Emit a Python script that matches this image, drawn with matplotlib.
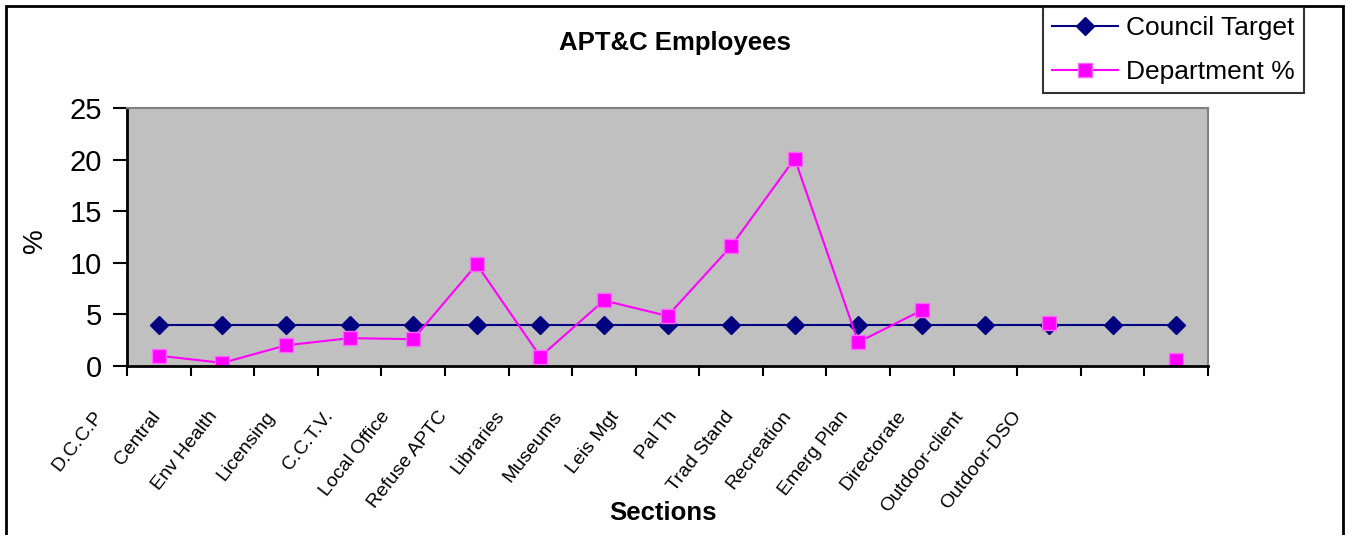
import matplotlib.pyplot as plt
import matplotlib.patches as patches
import matplotlib.transforms as mtransforms
import numpy as np

plt.rcParams['font.family'] = ['Liberation Sans', 'DejaVu Sans']

sections = ['D.C.C.P', 'Central', 'Env Health', 'Licensing', 'C.C.T.V.',
            'Local Office', 'Refuse APTC', 'Libraries', 'Museums', 'Leis Mgt',
            'Pal Th', 'Trad Stand', 'Recreation', 'Emerg Plan', 'Directorate',
            'Outdoor-client', 'Outdoor-DSO']
council_target = [4] * 17
department = [1.0, 0.3, 2.0, 2.7, 2.6, 9.85, 0.9, 6.35, 4.85, 11.6,
              20.1, 2.3, 5.4, np.nan, 4.2, np.nan, 0.6]
yticks = [0, 5, 10, 15, 20, 25]

fig = plt.figure(figsize=(13.47, 5.35), dpi=100)
ax = fig.add_axes([0.0943, 0.3159, 0.8025, 0.4822])
ax.set_facecolor('#C0C0C0')

x = np.arange(len(sections))
ax.plot(x, council_target, color='#000080', lw=1.5, marker='D', ms=9.5,
        mfc='#000080', mec='#000080', label='Council Target')
ax.plot(x, department, color='#FF00FF', lw=1.5, marker='s', ms=10,
        mfc='#FF00FF', mec='#FF66FF', label='Department %')

ax.set_xlim(-0.5, len(sections) - 0.5)
ax.set_ylim(0, 25)
ax.set_yticks(yticks)
ax.tick_params(axis='y', labelsize=21, length=10, width=1.5, direction='out', pad=8)

# tick marks at the category boundaries
ax.set_xticks(np.arange(len(sections) + 1) - 0.5)
ax.set_xticklabels([])
ax.tick_params(axis='x', length=7, width=1.5, direction='out')

# category labels drift left of their category in the original, so place by hand
trans = ax.get_xaxis_transform() + mtransforms.ScaledTranslation(0, -0.47, fig.dpi_scale_trans)
for i, name in enumerate(sections):
    ax.text(-0.925 + 0.902 * i, 0, name, transform=trans, rotation=52,
            ha='right', va='center', rotation_mode='anchor', fontsize=14,
            clip_on=False)

for s in ['left', 'bottom']:
    ax.spines[s].set_color('black')
    ax.spines[s].set_linewidth(2)
for s in ['top', 'right']:
    ax.spines[s].set_color('#808080')
    ax.spines[s].set_linewidth(1.5)

fig.text(0.501, 0.92, 'APT&C Employees', ha='center', va='center',
         fontsize=18.5, fontweight='bold')
fig.text(0.492, 0.042, 'Sections', ha='center', va='center',
         fontsize=18.5, fontweight='bold')
fig.text(0.026, 0.55, '%', ha='center', va='center', rotation=90, fontsize=20)

leg = fig.legend(loc='upper right', bbox_to_anchor=(0.968, 0.987), fontsize=19,
                 frameon=True, fancybox=False, edgecolor='black',
                 borderaxespad=0, handlelength=2.5, handletextpad=0.3,
                 borderpad=0.35, labelspacing=0.75)
leg.get_frame().set_linewidth(1.5)

fig.patches.append(patches.Rectangle((0.0045, -0.05), 0.9925, 1.039,
                                     transform=fig.transFigure, fill=False,
                                     edgecolor='black', lw=2))

fig.savefig('out.png', dpi=100)
